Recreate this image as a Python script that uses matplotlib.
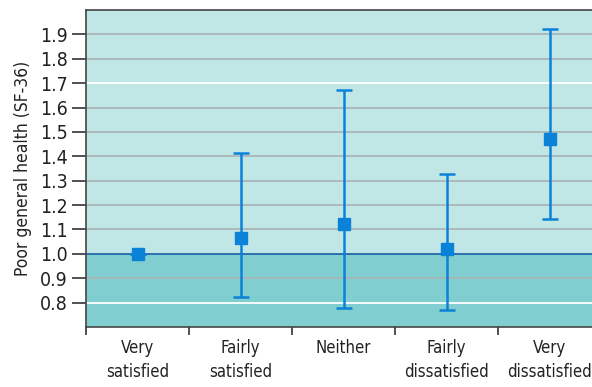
import numpy as np
import matplotlib.pyplot as plt
from matplotlib.ticker import FixedLocator

plt.rcParams['font.family'] = ['DejaVu Sans']
plt.rcParams['font.stretch'] = 'condensed'

# odds ratios with 95% CI by satisfaction level
categories = ['Very\nsatisfied', 'Fairly\nsatisfied', 'Neither', 'Fairly\ndissatisfied', 'Very\ndissatisfied']
odds = [1.0, 1.065, 1.122, 1.02, 1.469]
ci_low = [1.0, 0.825, 0.778, 0.771, 1.143]
ci_high = [1.0, 1.412, 1.673, 1.328, 1.923]
yticks = [0.8, 0.9, 1.0, 1.1, 1.2, 1.3, 1.4, 1.5, 1.6, 1.7, 1.8, 1.9]

fig = plt.figure(figsize=(5.92, 3.87), dpi=100)
ax = fig.add_axes([86 / 592, 1 - 327 / 387, 515 / 592, 317 / 387])

ax.set_xlim(-0.5, 4.5)
ax.set_ylim(0.7, 2.0)

# shaded backgrounds above / below reference
ax.axhspan(1.0, 2.0, color='#c0e6e6', zorder=0)
ax.axhspan(0.7, 1.0, color='#80cecf', zorder=0)

for y in yticks:
    c = 'white' if y in (0.8, 1.7) else '#a9b6b6'
    if y == 1.0:
        continue
    ax.axhline(y, color=c, lw=1.3, zorder=1)
ax.axhline(1.0, color='#1a5ea8', lw=1.2, zorder=2)

x = np.arange(len(categories))
odds = np.array(odds)
err = [odds - np.array(ci_low), np.array(ci_high) - odds]
ax.errorbar(x, odds, yerr=err, fmt='s', color='#0a82d8', ms=8.5, capsize=6,
            elinewidth=1.8, capthick=1.8, zorder=3)

ax.yaxis.set_major_locator(FixedLocator(yticks))
ax.set_yticklabels([f'{v:.1f}' for v in yticks], fontsize=14, color='#222222')
ax.tick_params(axis='y', length=10, width=1.2, color='#333333', pad=3)

ax.xaxis.set_major_locator(FixedLocator(np.arange(-0.5, 5, 1)))
ax.set_xticklabels([])
ax.tick_params(axis='x', length=6, width=1.2, color='#333333')
for i, lab in enumerate(categories):
    ax.text(i, 0.652, lab, ha='center', va='top', fontsize=12,
            linespacing=1.45, color='#222222')

ax.set_ylabel('Poor general health (SF-36)', fontsize=12.5, labelpad=6, color='#222222')

for s in ['left', 'bottom', 'top']:
    ax.spines[s].set_color('#444444')
    ax.spines[s].set_linewidth(1.2)
ax.spines['right'].set_visible(False)

fig.savefig('out.png', dpi=100)
